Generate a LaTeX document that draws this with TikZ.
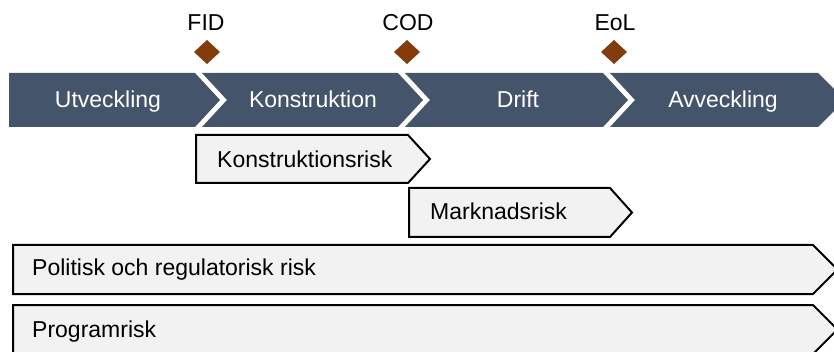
\documentclass[tikz,border=0pt]{standalone}
\usepackage{fontspec}
\setmainfont{Liberation Sans}
\definecolor{phase}{HTML}{44546A}
\definecolor{gate}{HTML}{843C0C}
\definecolor{riskfill}{HTML}{F2F2F2}
\begin{document}
\begin{tikzpicture}[x=1pt,y=-1pt,
  phasebox/.style={fill=phase},
  phaselabel/.style={text=white,font=\fontsize{23}{27}\selectfont,anchor=base,inner sep=0pt},
  gatemark/.style={fill=gate},
  gatelabel/.style={text=black,font=\fontsize{23}{27}\selectfont,anchor=base,inner sep=0pt},
  riskbox/.style={fill=riskfill,draw=black,line width=2pt,line join=miter},
  risklabel/.style={text=black,font=\fontsize{23}{27}\selectfont,anchor=base west,inner sep=0pt}]
\useasboundingbox (0,0) rectangle (834,352);
\clip (0,0) rectangle (834,352);

% project phases (chevron band)
\fill[phasebox] (9,73) -- (195,73) -- (220,100) -- (195,127) -- (9,127) -- cycle;
\fill[phasebox] (202,73) -- (398,73) -- (423,100) -- (398,127) -- (202,127) -- (227,100) -- cycle;
\fill[phasebox] (405,73) -- (603,73) -- (628,100) -- (603,127) -- (405,127) -- (430,100) -- cycle;
\fill[phasebox] (610,73) -- (818,73) -- (845,100) -- (818,127) -- (610,127) -- (635,100) -- cycle;
\node[phaselabel] (utv) at (108,108) {Utveckling};
\node[phaselabel] (kon) at (313,108) {Konstruktion};
\node[phaselabel] (dri) at (518,108) {Drift};
\node[phaselabel] (avv) at (723,108) {Avveckling};

% decision gates
\fill[gatemark] (207,40) -- (220,52) -- (207,64) -- (194,52) -- cycle;
\fill[gatemark] (407,40) -- (420,52) -- (407,64) -- (394,52) -- cycle;
\fill[gatemark] (614,40) -- (627,52) -- (614,64) -- (601,52) -- cycle;
\node[gatelabel] (fid) at (206,31) {FID};
\node[gatelabel] (cod) at (408,31) {COD};
\node[gatelabel] (eol) at (615,31) {EoL};

% risk periods
\draw[riskbox] (196,135) -- (408,135) -- (430,159) -- (408,183) -- (196,183) -- cycle;
\node[risklabel] (krisk) at (217,168) {Konstruktionsrisk};
\draw[riskbox] (409,188) -- (610,188) -- (632,212.5) -- (610,237) -- (409,237) -- cycle;
\node[risklabel] (mrisk) at (430,220) {Marknadsrisk};
\draw[riskbox] (13,245) -- (813,245) -- (837.5,269.5) -- (813,294) -- (13,294) -- cycle;
\node[risklabel] (prisk) at (32,276) {Politisk och regulatorisk risk};
\draw[riskbox] (13,305) -- (813,305) -- (837.5,329.5) -- (813,354) -- (13,354) -- cycle;
\node[risklabel] (grisk) at (32,337) {Programrisk};
\end{tikzpicture}
\end{document}
